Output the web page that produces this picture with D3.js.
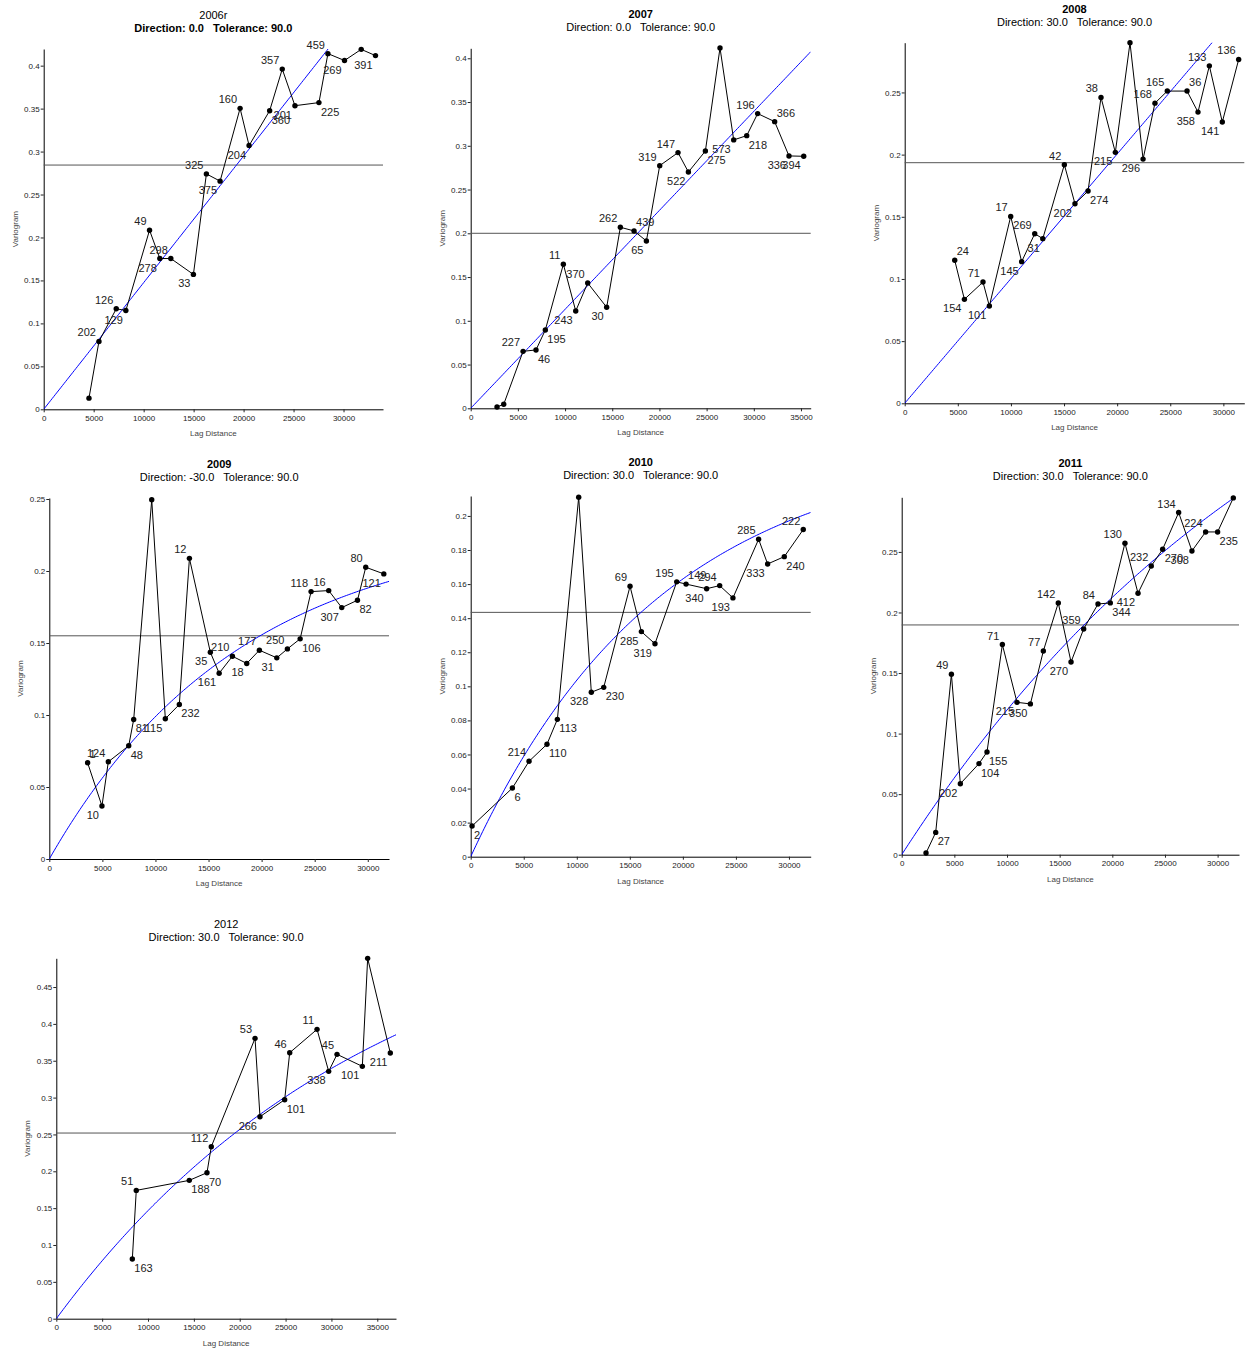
<!DOCTYPE html>
<html>
<head>
<meta charset="utf-8">
<script src="https://cdn.jsdelivr.net/npm/d3@7"></script>
<style>
  body { margin: 0; background: #fff; }
  svg { display: block; font-family: "Liberation Sans", Arial, sans-serif; }
</style>
</head>
<body>
<div id="chart"></div>
<script>
// ---- data: lag distance, semivariance, number of pairs per lag ----
const lag2006r = [4530, 5530, 7260, 8220, 10590, 11620, 12720, 14980, 16280, 17650, 19650, 20550, 22610, 23870, 25140, 27540, 28440, 30100, 31770, 33200];
const gam2006r = [0.013, 0.079, 0.117, 0.115, 0.2085, 0.1755, 0.1755, 0.157, 0.274, 0.2656, 0.3503, 0.307, 0.3476, 0.396, 0.3534, 0.357, 0.414, 0.406, 0.419, 0.4117];
const pairs2006r = [null, 202, 126, 129, 49, 278, 298, 33, 325, 375, 160, 204, 360, 357, 201, 225, 459, 269, null, 391];

const lag2007 = [2790, 3500, 5550, 6920, 7910, 9820, 11130, 12400, 14410, 15860, 17310, 18620, 20030, 21970, 23070, 24870, 26420, 27870, 29250, 30410, 32210, 33730, 35290];
const gam2007 = [0.0015, 0.0046, 0.0651, 0.0667, 0.0895, 0.1646, 0.1112, 0.1432, 0.1154, 0.2069, 0.2027, 0.1912, 0.2773, 0.2922, 0.270, 0.294, 0.4118, 0.3067, 0.3116, 0.3368, 0.3276, 0.2884, 0.288];
const pairs2007 = [null, null, 227, 46, 195, 11, 243, 370, 30, 262, 439, 65, 319, 147, 522, 275, null, 573, 218, 196, 366, 336, 394];

const lag2008 = [4710, 5620, 7370, 7970, 9980, 11010, 12240, 13000, 15030, 16030, 17260, 18480, 19830, 21210, 22440, 23560, 24720, 26580, 27610, 28680, 29900, 31440];
const gam2008 = [0.115, 0.0836, 0.0975, 0.0782, 0.1503, 0.1139, 0.1364, 0.1324, 0.1919, 0.1605, 0.1707, 0.246, 0.2018, 0.2899, 0.1964, 0.2414, 0.2511, 0.2511, 0.2342, 0.2714, 0.2262, 0.2765];
const pairs2008 = [24, 154, 71, 101, 17, 145, 269, 31, 42, 202, 274, 38, 215, null, 296, 168, 165, 36, 358, 133, 141, 136];

const lag2009 = [3610, 4960, 5560, 7480, 7950, 9650, 10930, 12250, 13200, 15170, 16000, 17250, 18600, 19790, 21430, 22430, 23630, 24660, 26320, 27550, 29030, 29810, 31510];
const gam2009 = [0.0668, 0.0368, 0.0675, 0.0786, 0.0969, 0.2495, 0.0974, 0.1073, 0.2088, 0.1436, 0.129, 0.1408, 0.1358, 0.145, 0.1397, 0.1459, 0.1529, 0.1857, 0.1864, 0.1746, 0.1797, 0.2026, 0.198];
const pairs2009 = [1, 10, 124, 48, 81, null, 115, 232, 12, 35, 161, 210, 18, 177, 31, 250, 106, 118, 16, 307, 82, 80, 121];

const lag2010 = [130, 3930, 5500, 7190, 8170, 10180, 11370, 12540, 15020, 16090, 17370, 19420, 20300, 22240, 23470, 24720, 27140, 27990, 29560, 31350];
const gam2010 = [0.018, 0.0403, 0.056, 0.066, 0.0806, 0.211, 0.0965, 0.0994, 0.1587, 0.1321, 0.125, 0.1613, 0.160, 0.1573, 0.1591, 0.1519, 0.1863, 0.1718, 0.1761, 0.192];
const pairs2010 = [2, 6, 214, 110, 113, null, 328, 230, 69, 285, 319, 195, 149, 340, 294, 193, 285, 333, 240, 222];

const lag2011 = [2310, 3230, 4720, 5570, 7340, 8100, 9560, 10950, 12220, 13450, 14870, 16080, 17280, 18640, 19810, 21200, 22440, 23700, 24780, 26300, 27560, 28860, 30000, 31490];
const gam2011 = [0.0014, 0.0184, 0.149, 0.0586, 0.0752, 0.0848, 0.1735, 0.1258, 0.1245, 0.1682, 0.2079, 0.1591, 0.1864, 0.207, 0.2079, 0.2572, 0.2159, 0.2384, 0.2522, 0.2825, 0.2508, 0.2665, 0.2665, 0.2946];
const pairs2011 = [null, 27, 49, 202, 104, 155, 71, 215, 350, 77, 142, 270, 359, 84, 344, 130, 412, 232, 270, 134, 308, 224, 235, null];

const lag2012 = [8290, 8720, 14500, 16430, 16900, 21670, 22210, 24900, 25450, 28430, 29700, 30610, 33370, 33950, 36420];
const gam2012 = [0.081, 0.1741, 0.1877, 0.1981, 0.2334, 0.3804, 0.2741, 0.2971, 0.3609, 0.3926, 0.3356, 0.3587, 0.3424, 0.4889, 0.3605];
const pairs2012 = [163, 51, 188, 70, 112, 53, 266, 101, 46, 11, 338, 45, 101, null, 211];

// titles, sample variance (horizontal line) and fitted model
const years = ["2006r", "2007", "2008", "2009", "2010", "2011", "2012"];
const directions = ["0.0", "0.0", "30.0", "-30.0", "30.0", "30.0", "30.0"];
const tolerance = "90.0";
const sills = [0.2843, 0.2, 0.1935, 0.155, 0.1434, 0.1897, 0.2519];
const modelType = ["linear", "linear", "linear", "exp", "exp", "exp", "exp"];
const modelC = [1.474e-5, 1.131e-5, 1.0024e-5, 0.232, 0.243, 0.54, 0.59];  // slope or sill
const modelRange = [null, null, null, 18000, 18000, 40000, 35000];
const xMaxs = [33950, 36030, 31970, 32000, 32050, 32030, 37040];
const yMaxs = [0.4194, 0.4114, 0.29, 0.2507, 0.2117, 0.2951, 0.489];
const ySteps = [0.05, 0.05, 0.05, 0.05, 0.02, 0.05, 0.05];

// label placement (al = above-left, bl = below-left, ar/br = right side)
const place2006r = ["", "al", "al", "bl", "al", "bl", "al", "bl", "al", "bl", "al", "bl", "br", "al", "bl", "br", "al", "bl", "", "bl"];
const place2007 = ["", "", "al", "br", "br", "al", "bl", "al", "bl", "al", "ar", "bl", "al", "al", "bl", "br", "", "bl", "br", "al", "ar", "bl", "bl"];
const place2008 = ["ar", "bl", "al", "bl", "al", "bl", "al", "bl", "al", "bl", "br", "al", "bl", "", "bl", "al", "al", "ar", "bl", "al", "bl", "al"];
const place2009 = ["ar", "bl", "al", "br", "br", "", "bl", "br", "al", "bl", "bl", "al", "bl", "al", "bl", "al", "br", "al", "al", "bl", "br", "al", "bl"];
const place2010 = ["br", "br", "al", "br", "br", "", "bl", "br", "al", "bl", "bl", "al", "ar", "bl", "al", "bl", "al", "bl", "br", "al"];
const place2011 = ["", "br", "al", "bl", "br", "br", "al", "bl", "bl", "al", "al", "bl", "al", "al", "br", "al", "bl", "al", "br", "al", "bl", "al", "br", ""];
const place2012 = ["br", "al", "br", "br", "al", "al", "bl", "br", "al", "al", "bl", "al", "bl", "", "bl"];

const series = [
  [lag2006r, gam2006r, pairs2006r, place2006r],
  [lag2007, gam2007, pairs2007, place2007],
  [lag2008, gam2008, pairs2008, place2008],
  [lag2009, gam2009, pairs2009, place2009],
  [lag2010, gam2010, pairs2010, place2010],
  [lag2011, gam2011, pairs2011, place2011],
  [lag2012, gam2012, pairs2012, place2012]
];

// plot frames on the page
const frames = [
  {left: 43.7, top: 49, right: 383, bottom: 409.3, boldTitle: false, boldSub: true},
  {left: 470.7, top: 48.3, right: 810.7, bottom: 408.3, boldTitle: true, boldSub: false},
  {left: 904.7, top: 42.7, right: 1244.3, bottom: 403.3, boldTitle: true, boldSub: false},
  {left: 49.3, top: 498, right: 389, bottom: 859, boldTitle: true, boldSub: false},
  {left: 470.7, top: 496, right: 810.7, bottom: 856.7, boldTitle: true, boldSub: false},
  {left: 901.7, top: 497.3, right: 1239, bottom: 854.7, boldTitle: true, boldSub: false},
  {left: 56.3, top: 958.3, right: 396, bottom: 1318.7, boldTitle: false, boldSub: false}
];

const svg = d3.select("#chart").append("svg")
  .attr("width", 1256)
  .attr("height", 1349);

const fmtY = d => String(+d.toFixed(4));

frames.forEach((f, i) => {
  const [lags, gams, pairs, place] = series[i];
  const x = d3.scaleLinear().domain([0, xMaxs[i]]).range([f.left, f.right]);
  const y = d3.scaleLinear().domain([0, yMaxs[i]]).range([f.bottom, f.top]);
  const g = svg.append("g");

  // axes
  const xAxis = g.append("g")
    .attr("transform", `translate(0,${f.bottom})`)
    .call(d3.axisBottom(x)
      .tickValues(d3.range(0, xMaxs[i] + 1, 5000))
      .tickFormat(d3.format("d"))
      .tickSize(3).tickPadding(3).tickSizeOuter(0));
  const yAxis = g.append("g")
    .attr("transform", `translate(${f.left},0)`)
    .call(d3.axisLeft(y)
      .tickValues(d3.range(0, Math.round(yMaxs[i] / ySteps[i] + 0.0001) + 1).map(k => +(k * ySteps[i]).toFixed(4)).filter(v => v <= yMaxs[i] + 1e-9))
      .tickFormat(fmtY)
      .tickSize(3).tickPadding(1).tickSizeOuter(0));
  [xAxis, yAxis].forEach(a => {
    a.attr("font-family", null).attr("font-size", null)
      .style("font-size", "8px").style("color", "#222");
    a.select(".domain").attr("stroke", "#000");
  });

  // axis titles
  g.append("text")
    .attr("x", (f.left + f.right) / 2)
    .attr("y", f.bottom + 27)
    .attr("text-anchor", "middle")
    .style("font-size", "8px")
    .style("fill", "#444")
    .text("Lag Distance");
  g.append("text")
    .attr("transform", `translate(${f.left - 26},${(f.top + f.bottom) / 2}) rotate(-90)`)
    .attr("text-anchor", "middle")
    .style("font-size", "8px")
    .style("fill", "#444")
    .text("Variogram");

  // panel title
  g.append("text")
    .attr("x", (f.left + f.right) / 2)
    .attr("y", f.top - 30)
    .attr("text-anchor", "middle")
    .style("font-size", "11px")
    .style("font-weight", f.boldTitle ? "bold" : "normal")
    .text(years[i]);
  g.append("text")
    .attr("x", (f.left + f.right) / 2)
    .attr("y", f.top - 17)
    .attr("text-anchor", "middle")
    .style("font-size", "11px")
    .style("white-space", "pre")
    .style("font-weight", f.boldSub ? "bold" : "normal")
    .text(`Direction: ${directions[i]}   Tolerance: ${tolerance}`);

  // sample variance line
  g.append("line")
    .attr("x1", f.left).attr("x2", f.right)
    .attr("y1", y(sills[i])).attr("y2", y(sills[i]))
    .attr("stroke", "#555")
    .attr("stroke-width", 1);

  // fitted model
  const clipId = "clip" + i;
  svg.append("clipPath").attr("id", clipId)
    .append("rect")
    .attr("x", f.left).attr("y", f.top)
    .attr("width", f.right - f.left).attr("height", f.bottom - f.top);
  const model = h => modelType[i] === "linear"
    ? modelC[i] * h
    : modelC[i] * (1 - Math.exp(-h / modelRange[i]));
  const hs = d3.range(0, 201).map(k => k / 200 * xMaxs[i]);
  g.append("path")
    .attr("clip-path", `url(#${clipId})`)
    .attr("d", d3.line().x(h => x(h)).y(h => y(model(h)))(hs))
    .attr("fill", "none")
    .attr("stroke", "#0000ff")
    .attr("stroke-width", 1);

  // experimental variogram
  const pts = lags.map((h, k) => ({h, v: gams[k], n: pairs[k], p: place[k]}));
  g.append("path")
    .attr("d", d3.line().x(d => x(d.h)).y(d => y(d.v))(pts))
    .attr("fill", "none")
    .attr("stroke", "#000")
    .attr("stroke-width", 1);
  g.selectAll("circle.pt")
    .data(pts)
    .join("circle")
    .attr("class", "pt")
    .attr("cx", d => x(d.h))
    .attr("cy", d => y(d.v))
    .attr("r", 2.7)
    .attr("fill", "#000");

  g.selectAll("text.pairs")
    .data(pts.filter(d => d.n !== null && d.p))
    .join("text")
    .attr("class", "pairs")
    .attr("x", d => x(d.h) + (d.p[1] === "l" ? -3 : 2))
    .attr("y", d => y(d.v) + (d.p[0] === "a" ? -5 : 13))
    .attr("text-anchor", d => d.p[1] === "l" ? "end" : "start")
    .style("font-size", "11px")
    .style("fill", "#222")
    .text(d => d.n);
});
</script>
</body>
</html>
